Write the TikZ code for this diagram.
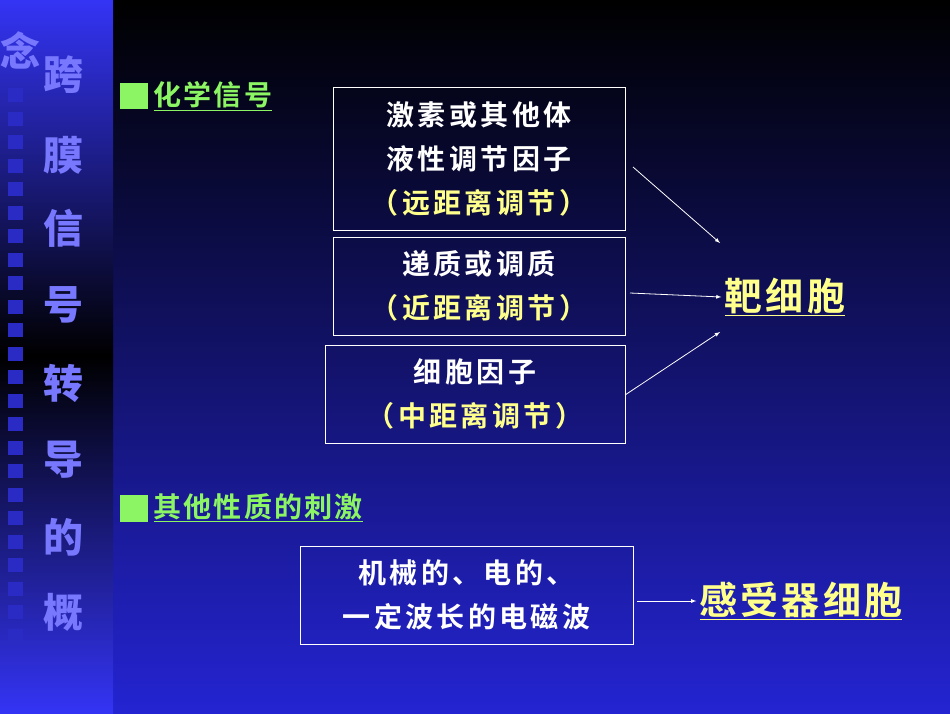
\documentclass[tikz,border=0pt]{standalone}
\usepackage{fontspec}
\newfontfamily\cjk{Noto Sans CJK SC Bold}[LetterSpace=12]
\newfontfamily\cjkb{Noto Sans CJK SC Bold}[LetterSpace=8]
\newfontfamily\cjks{Noto Sans CJK SC Black}
\definecolor{sbtop}{RGB}{52,52,245}
\definecolor{mbot}{RGB}{36,36,210}
\definecolor{side}{RGB}{120,120,255}
\definecolor{gr}{RGB}{140,245,100}
\definecolor{yl}{RGB}{255,255,140}
\begin{document}
\begin{tikzpicture}[x=1pt,y=-1pt,
  box/.style={draw=white,line width=0.8pt,align=center,text=white,inner sep=0pt,font=\cjk\fontsize{28}{44}\selectfont},
  arr/.style={draw=white,line width=0.8pt,-latex},
  side/.style={text=side,font=\cjks\fontsize{40}{40}\selectfont},
  big/.style={text=yl,font=\cjkb\fontsize{38}{38}\selectfont}]
\useasboundingbox (0,0) rectangle (950,713);
\shade[top color=black,bottom color=mbot] (113,0) rectangle (950,713);
\shade[top color=sbtop,bottom color=black] (0,0) rectangle (113,356);
\shade[top color=black,bottom color=sbtop] (0,356) rectangle (113,713);
\foreach \i in {0,...,23} \fill[sbtop!80!black] (8,{88+\i*23.5}) rectangle (23,{102+\i*23.5});
\node[side] (c0) at (21,50) {念};
\foreach \ch/\y in {跨/75,膜/155,信/228,号/305,转/383,导/460,的/537,概/612}
  \node[side] at (63,\y) {\ch};
% bullets
\fill[gr] (120,83) rectangle (148,109);
\node[text=gr,font=\cjkb\fontsize{28}{28}\selectfont,anchor=west] (h1) at (150,96) {\underline{化学信号}};
\fill[gr] (120,495) rectangle (148,522);
\node[text=gr,font=\cjkb\fontsize{28}{28}\selectfont,anchor=west] (h2) at (150,508) {\underline{其他性质的刺激}};
% boxes
\node[box,minimum width=292pt,minimum height=143pt] (b1) at (479,158.5) {激素或其他体\\液性调节因子\\\textcolor{yl}{（远距离调节）}};
\coordinate (b1e) at (633,167);
\node[box,minimum width=292pt,minimum height=98pt] (b2) at (479,286) {递质或调质\\\textcolor{yl}{（近距离调节）}};
\coordinate (b2e) at (630,293);
\node[box,minimum width=300pt,minimum height=98pt] (b3) at (475,394) {细胞因子\\\textcolor{yl}{（中距离调节）}};
\coordinate (b3e) at (625,395);
\node[big] (t) at (785,297) {\underline{靶细胞}};
\draw[arr] (b1e) -- (720,243);
\draw[arr] (b2e) -- (t.west);
\draw[arr] (b3e) -- (720,332);
\node[box,minimum width=333pt,minimum height=98pt] (b4) at (466.5,595) {机械的、电的、\\一定波长的电磁波};
\coordinate (b4e) at (637,601);
\node[big] (r) at (801,601) {\underline{感受器细胞}};
\draw[arr] (b4e) -- (r.west);
\end{tikzpicture}
\end{document}
